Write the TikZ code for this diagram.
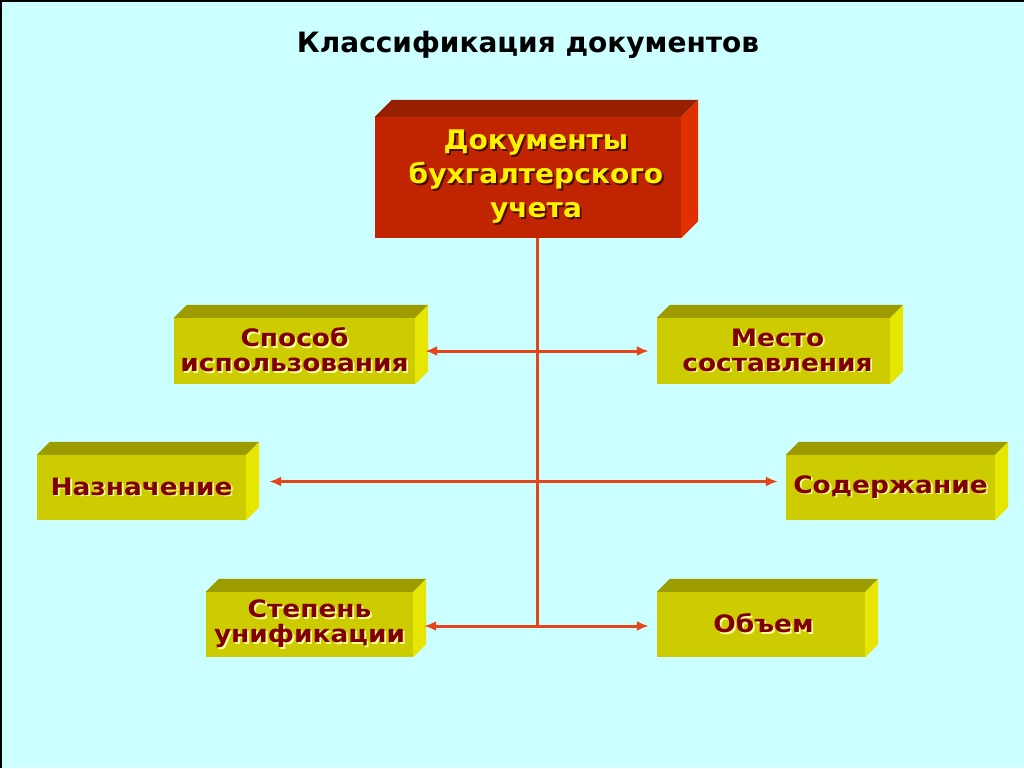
\documentclass[tikz,border=0pt]{standalone}
\usepackage{fontspec}
\setmainfont{DejaVu Sans}
\newfontfamily\boxfont[FakeStretch=1.1]{DejaVu Sans}
\newfontfamily\docfont[FakeStretch=1.04]{DejaVu Sans}
\usetikzlibrary{arrows.meta}
\definecolor{bgcyan}{HTML}{CCFFFF}
\definecolor{yfront}{HTML}{CCCC00}
\definecolor{ytop}{HTML}{9C9C00}
\definecolor{yside}{HTML}{E6E600}
\definecolor{rfront}{HTML}{C02400}
\definecolor{rtop}{HTML}{962000}
\definecolor{rside}{HTML}{E03000}
\definecolor{linkred}{HTML}{E8441C}
\definecolor{darkred}{HTML}{800000}
\definecolor{lightsh}{HTML}{FFFF99}
\definecolor{darksh}{HTML}{4A0C00}
% text with a small drop shadow
\newcommand\shd[2]{\leavevmode\rlap{\kern1.8pt\raisebox{-1.8pt}{\color{#1}#2}}#2}
\tikzset{
  ybox/.style={fill=yfront, inner sep=0pt, align=center, text=darkred,
    font=\boxfont\bfseries\fontsize{24}{25}\selectfont},
  rbox/.style={fill=rfront, inner sep=0pt, align=center, text=yellow,
    font=\docfont\bfseries\fontsize{27}{34}\selectfont},
  link/.style={draw=linkred, line width=3pt},
  tips/.style={link, {Latex[length=12pt,width=10pt]}-{Latex[length=12pt,width=10pt]}}
}
\begin{document}
\begin{tikzpicture}[x=1pt,y=-1pt]
  \useasboundingbox (0,0) rectangle (1024,768);
  \fill[bgcyan] (0,0) rectangle (1024,768);
  \draw[line width=2pt] (1,768) -- (1,1) -- (1024,1);

  \node (title) at (528,45) {\bfseries\fontsize{28}{30}\selectfont Классификация документов};

  \node[rbox, minimum width=306, minimum height=121] (doc) at (528,177.5)
    {\hspace*{16pt}\shd{darksh}{Документы}\\\hspace*{16pt}\shd{darksh}{бухгалтерского}\\
     \hspace*{16pt}\shd{darksh}{учета}};

  \node[ybox, minimum width=241, minimum height=66] (sposob) at (294.5,351)
    {\shd{lightsh}{Способ}\\\shd{lightsh}{использования}};
  \node[ybox, minimum width=233, minimum height=66] (mesto) at (773.5,351)
    {\hspace*{8pt}\shd{lightsh}{Место}\\\hspace*{8pt}\shd{lightsh}{составления}};
  \node[ybox, minimum width=209, minimum height=65] (nazn) at (141.5,487.5)
    {\shd{lightsh}{Назначение}};
  \node[ybox, minimum width=209, minimum height=65] (soder) at (890.5,487.5)
    {\shd{lightsh}{Содержание}};
  \node[ybox, minimum width=207, minimum height=65] (stepen) at (309.5,624.5)
    {\shd{lightsh}{Степень}\\\shd{lightsh}{унификации}};
  \node[ybox, minimum width=208, minimum height=65] (obem) at (761,624.5)
    {\hspace*{5pt}\shd{lightsh}{Объем}};

  % top and side faces
  \foreach \n/\d/\ct/\cs in {doc/17/rtop/rside, sposob/13/ytop/yside, mesto/13/ytop/yside,
      nazn/13/ytop/yside, soder/13/ytop/yside, stepen/13/ytop/yside, obem/13/ytop/yside} {
    \fill[\ct] (\n.north west) -- ++(\d,-\d) -- ([shift={(\d,-\d)}]\n.north east)
      -- (\n.north east) -- cycle;
    \fill[\cs] (\n.north east) -- ++(\d,-\d) -- ([shift={(\d,-\d)}]\n.south east)
      -- (\n.south east) -- cycle;
  }

  % connectors
  \coordinate (trunk) at (537,626);
  \draw[link] (doc.south -| trunk) -- (trunk);
  \draw[tips] ([xshift=10]sposob.east) -- ([xshift=-8]mesto.west);
  \draw[tips] ([xshift=23,yshift=6]nazn.east) -- ([xshift=-8,yshift=6]soder.west);
  \draw[tips] ([xshift=11,yshift=-1.5]stepen.east) -- ([xshift=-8,yshift=-1.5]obem.west);
\end{tikzpicture}
\end{document}
